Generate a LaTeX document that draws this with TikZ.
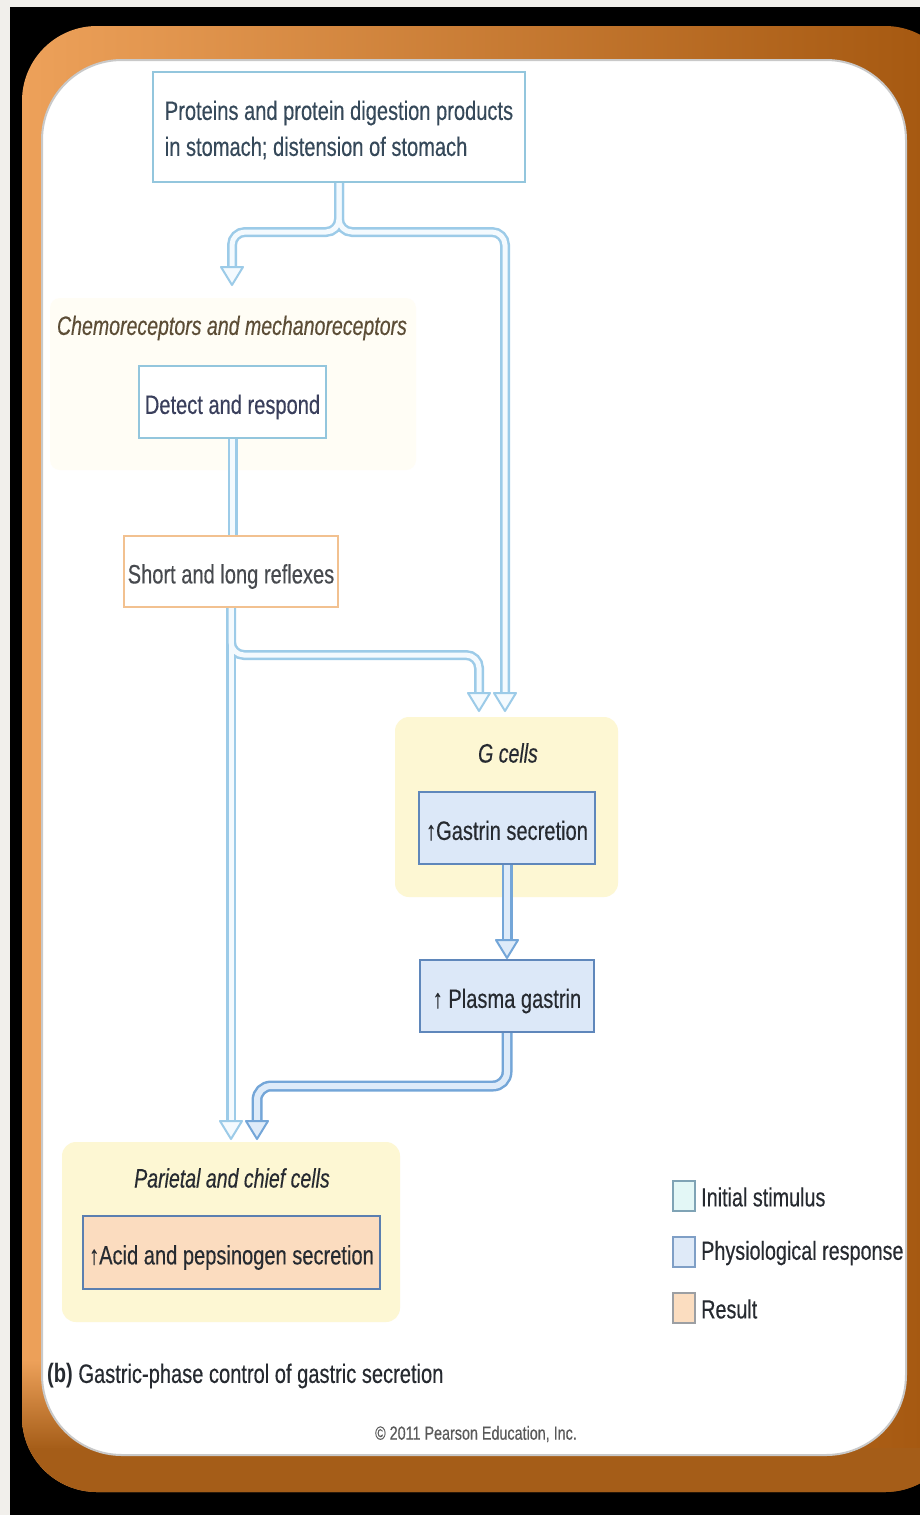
\documentclass[tikz,border=0pt]{standalone}
\usepackage{fontspec}
\setmainfont{Liberation Sans}[UprightFeatures={FakeStretch=0.755,FakeBold=0.35}, BoldFeatures={FakeStretch=0.755}, ItalicFeatures={FakeStretch=0.735,FakeBold=0.35}]
\usetikzlibrary{calc}
\definecolor{bggray}{HTML}{F1EFEB}
\definecolor{frameL}{HTML}{EDA15A}
\definecolor{frameR}{HTML}{A3560E}
\definecolor{frameB}{HTML}{A55D18}
\definecolor{panelEdge}{HTML}{C9C9C9}
\definecolor{faintY}{HTML}{FFFDF5}
\definecolor{ybgC}{HTML}{FDF7D3}
\definecolor{initB}{HTML}{93C6DD}
\definecolor{reflB}{HTML}{F2C190}
\definecolor{physF}{HTML}{DCE8F8}
\definecolor{physB}{HTML}{5F87BB}
\definecolor{resF}{HTML}{FBDCBF}
\definecolor{resB}{HTML}{5B7FB0}
\definecolor{pLo}{HTML}{9CCBE8}
\definecolor{pLi}{HTML}{F4FAFE}
\definecolor{pDo}{HTML}{74A6D8}
\definecolor{pDi}{HTML}{DEEBF9}
\definecolor{legIniF}{HTML}{E3F7F6}
\definecolor{legIniB}{HTML}{7FA3B5}
\definecolor{legPhyF}{HTML}{DFEAF8}
\definecolor{legPhyB}{HTML}{7F9FC6}
\definecolor{legResF}{HTML}{FBDDC0}
\definecolor{legResB}{HTML}{9C9FA3}
\definecolor{topT}{HTML}{36495A}
\definecolor{detT}{HTML}{3A3F5C}
\definecolor{chemT}{HTML}{5C4D36}
\definecolor{darkT}{HTML}{262A30}
\newcommand{\mainfs}{\fontsize{26.6}{36}\selectfont}
\tikzset{
  box/.style={draw, line width=2pt, inner sep=0pt, align=center, font=\mainfs, text height=29.4pt, text depth=5.6pt},
  ybg/.style={fill=ybgC, rounded corners=14pt, inner sep=0pt},
  lab/.style={inner sep=0pt, font=\mainfs\itshape},
  pipeLo/.style={line width=10pt, draw=pLo, rounded corners=13pt},
  pipeLi/.style={line width=5pt, draw=pLi, rounded corners=13pt},
  pipeDo/.style={line width=11pt, draw=pDo, rounded corners=14pt},
  pipeDi/.style={line width=6pt, draw=pDi, rounded corners=14pt},
  headL/.style={fill=pLi, draw=pLo, line width=2pt, line join=round},
  headD/.style={fill=pDi, draw=pDo, line width=2pt, line join=round},
  legbox/.style={draw, line width=2pt, minimum width=22pt, minimum height=30pt, inner sep=0pt},
  legtext/.style={anchor=west, inner sep=0pt, font=\fontsize{26.2}{32}\selectfont, text=darkT}
}
\begin{document}
\begin{tikzpicture}[x=1pt,y=-1pt]
\useasboundingbox (0,0) rectangle (920,1515);
% background and frame
\fill[bggray] (0,0) rectangle (920,1515);
\fill[black] (10,7) rectangle (920,1515);
\shade[left color=frameL, right color=frameR, rounded corners=75pt] (22,26) rectangle (960,1492);
\begin{scope}
  \clip[rounded corners=75pt] (22,26) rectangle (960,1492);
  \shade[top color=frameL, bottom color=frameB] (0,1360) rectangle (140,1449);
  \fill[frameB] (0,1448) rectangle (920,1515);
\end{scope}
\filldraw[fill=white, draw=panelEdge, line width=2pt, rounded corners=80pt] (42,60) rectangle (906,1455);
% faint regions
\fill[faintY, rounded corners=10pt] (50,298) rectangle (416,470);
\node[ybg, minimum width=223pt, minimum height=180pt] (gbg) at (506.5,807) {};
\node[ybg, minimum width=338pt, minimum height=180pt] (pbg) at (231,1232) {};
% labels
\node[lab, text=chemT] (chem) at (232,328) {Chemoreceptors and mechanoreceptors};
\node[lab, text=darkT] (glab) at (508,753) {G cells};
\node[lab, text=darkT] (plab) at (232,1178) {Parietal and chief cells};
% boxes
\node[box, draw=initB, fill=white, minimum width=372pt, minimum height=110pt, align=left, text=topT, text height=63.4pt, text depth=5.6pt] (top) at (339,127)
  {Proteins and protein digestion products\\in stomach; distension of stomach};
\node[box, draw=initB, fill=white, minimum width=187pt, minimum height=72pt, text=detT] (detect) at (232.5,402) {Detect and respond};
\node[box, draw=reflB, fill=white, minimum width=214pt, minimum height=71pt, text=darkT!85] (reflex) at (231,571.5) {Short and long reflexes};
\node[box, draw=physB, fill=physF, minimum width=176pt, minimum height=72pt, text=darkT] (gastrin) at (507,828) {↑Gastrin secretion};
\node[box, draw=physB, fill=physF, minimum width=174pt, minimum height=72pt, text=darkT] (plasma) at (507,996) {↑ Plasma gastrin};
\node[box, draw=resB, fill=resF, minimum width=297pt, minimum height=73pt, text=darkT] (acid) at (231.5,1252.5) {↑Acid and pepsinogen secretion};
% arrow head tips
\coordinate (hA) at (232,285);
\coordinate (hB) at (479,711);
\coordinate (hC) at (505,711);
\coordinate (hD) at (507,958);
\coordinate (hE) at (231,1139);
\coordinate (hF) at (257,1139);
% connectors (two passes: outline then fill)
\foreach \s in {pipeLo,pipeLi}{
  \draw[\s] (top.south) -- (339,232) -- (232,232) -- ($(hA)+(0,-15)$);
  \draw[\s] (top.south) -- (339,232) -- (505,232) -- ($(hC)+(0,-15)$);
  \draw[\s] (detect.south) -- (detect.south |- reflex.north);
  \draw[\s] (reflex.south) -- ($(hE)+(0,-15)$);
  \draw[\s] (reflex.south) -- (231,655) -- (479,655) -- ($(hB)+(0,-15)$);
}
\foreach \s in {pipeDo,pipeDi}{
  \draw[\s] (gastrin.south) -- ($(hD)+(0,-15)$);
  \draw[\s] (plasma.south) -- (507,1086) -- (257,1086) -- ($(hF)+(0,-15)$);
}
% arrow heads
\foreach \h in {hA,hB,hC,hE}{
  \filldraw[headL] (\h) -- ++(-11,-18) -- ++(22,0) -- cycle;
}
\foreach \h in {hD,hF}{
  \filldraw[headD] (\h) -- ++(-11,-18) -- ++(22,0) -- cycle;
}
% legend
\node[legbox, fill=legIniF, draw=legIniB] (l1) at (684,1196) {};
\node[legbox, fill=legPhyF, draw=legPhyB] (l2) at (684,1252) {};
\node[legbox, fill=legResF, draw=legResB] (l3) at (684,1308) {};
\node[legtext] (t1) at (701,1197) {Initial stimulus};
\node[legtext] (t2) at (701,1253) {Physiological response};
\node[legtext] (t3) at (701,1309) {Result};
% caption
\node[anchor=west, inner sep=0pt, font=\mainfs, text=darkT] (cap) at (47,1376) {\textbf{(b)} Gastric-phase control of gastric secretion};
\node[inner sep=0pt, font=\fontsize{19}{22}\selectfont, text=black!65] (copy) at (476,1434) {© 2011 Pearson Education, Inc.};
\end{tikzpicture}
\end{document}
